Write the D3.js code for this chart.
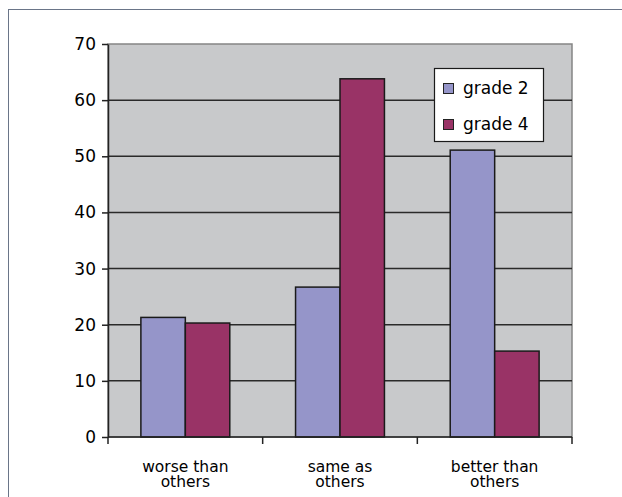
<!DOCTYPE html>
<html>
<head>
<meta charset="utf-8">
<script src="https://cdn.jsdelivr.net/npm/d3@7"></script>
<style>
  body { margin: 0; background: #fff; }
  text { font-family: "DejaVu Sans", sans-serif; fill: #000; }
</style>
</head>
<body>
<svg id="chart"></svg>
<script>
const categories = [["worse than", "others"], ["same as", "others"], ["better than", "others"]];
const seriesNames = ["grade 2", "grade 4"];
const grade2 = [21.3, 26.7, 51.1];
const grade4 = [20.3, 63.8, 15.3];
const yTicks = [0, 10, 20, 30, 40, 50, 60, 70];
const colors = ["#9595c9", "#993366"];

const width = 622, height = 497;
const margin = {top: 44, right: 50, bottom: 60, left: 108},
    innerW = 572 - margin.left,
    innerH = 437 - margin.top;

const svg = d3.select("#chart")
    .attr("width", width)
    .attr("height", height);

// outer frame
svg.append("rect")
    .attr("x", 8.5).attr("y", 9.5)
    .attr("width", 700).attr("height", 600)
    .attr("fill", "none")
    .attr("stroke", "#6a7588")
    .attr("stroke-width", 1);

const g = svg.append("g")
    .attr("transform", `translate(${margin.left}, ${margin.top})`);

const x0 = d3.scaleBand()
    .domain(d3.range(categories.length))
    .range([0, innerW]);
const x1 = d3.scaleBand()
    .domain(seriesNames)
    .range([0, x0.bandwidth()])
    .paddingInner(0)
    .paddingOuter(0.74);
const y = d3.scaleLinear()
    .domain([0, 70])
    .range([innerH, 0]);

// plot background
g.append("rect")
    .attr("width", innerW).attr("height", innerH)
    .attr("fill", "#c8c9cb")
    .attr("stroke", "#858585")
    .attr("stroke-width", 1.5);

// gridlines
g.append("g")
    .selectAll("line")
    .data(yTicks.filter(d => d > 0 && d < 70))
    .enter().append("line")
    .attr("x1", 0).attr("x2", innerW)
    .attr("y1", d => y(d)).attr("y2", d => y(d))
    .attr("stroke", "#2a2a2a")
    .attr("stroke-width", 1.5);

// bars
const data = categories.map((c, i) => ({i: i, values: [grade2[i], grade4[i]]}));
g.append("g")
    .selectAll("g")
    .data(data)
    .enter().append("g")
    .attr("transform", d => `translate(${x0(d.i)}, 0)`)
    .selectAll("rect")
    .data(d => d.values.map((v, k) => ({key: seriesNames[k], value: v, k: k})))
    .enter().append("rect")
    .attr("x", d => x1(d.key))
    .attr("y", d => y(d.value))
    .attr("width", x1.bandwidth())
    .attr("height", d => innerH - y(d.value))
    .attr("fill", d => colors[d.k])
    .attr("stroke", "#1a1a1a")
    .attr("stroke-width", 1.5);

// y axis
const yAxis = g.append("g")
    .call(d3.axisLeft(y).tickValues(yTicks).tickSize(6).tickSizeOuter(0).tickPadding(6));
yAxis.select(".domain").attr("stroke", "#222").attr("stroke-width", 1.5);
yAxis.selectAll(".tick line").attr("stroke", "#222").attr("stroke-width", 1.5);
yAxis.selectAll("text")
    .style("font-size", "17px")
    .style("font-family", "DejaVu Sans, sans-serif")
    .attr("fill", "#000");

// x axis line + ticks at category boundaries
g.append("line")
    .attr("x1", 0).attr("x2", innerW)
    .attr("y1", innerH).attr("y2", innerH)
    .attr("stroke", "#222").attr("stroke-width", 1.5);
g.append("g")
    .selectAll("line")
    .data(d3.range(categories.length + 1))
    .enter().append("line")
    .attr("x1", d => d * x0.step()).attr("x2", d => d * x0.step())
    .attr("y1", innerH).attr("y2", innerH + 7)
    .attr("stroke", "#222").attr("stroke-width", 1.5);

// category labels
const labels = g.append("g")
    .selectAll("text")
    .data(categories)
    .enter().append("text")
    .attr("x", (d, i) => x0(i) + x0.bandwidth() / 2)
    .attr("y", innerH + 35)
    .attr("text-anchor", "middle")
    .style("font-size", "15.5px");
labels.selectAll("tspan")
    .data(d => d)
    .enter().append("tspan")
    .attr("x", function () { return this.parentNode.getAttribute("x"); })
    .attr("dy", (d, i) => i === 0 ? 0 : 15)
    .text(d => d);

// legend
const legend = svg.append("g")
    .attr("transform", "translate(434, 68)");
legend.append("rect")
    .attr("x", 0.5).attr("y", 0.5)
    .attr("width", 109).attr("height", 73)
    .attr("fill", "#fff")
    .attr("stroke", "#1a1a1a")
    .attr("stroke-width", 1.2);
const items = legend.selectAll("g.item")
    .data(seriesNames)
    .enter().append("g")
    .attr("class", "item")
    .attr("transform", (d, i) => `translate(0, ${i * 36})`);
items.append("rect")
    .attr("x", 9.5).attr("y", 15.5)
    .attr("width", 10).attr("height", 10)
    .attr("fill", (d, i) => colors[i])
    .attr("stroke", "#222")
    .attr("stroke-width", 1);
items.append("text")
    .attr("x", 29).attr("y", 26)
    .style("font-size", "17px")
    .text(d => d);
</script>
</body>
</html>
